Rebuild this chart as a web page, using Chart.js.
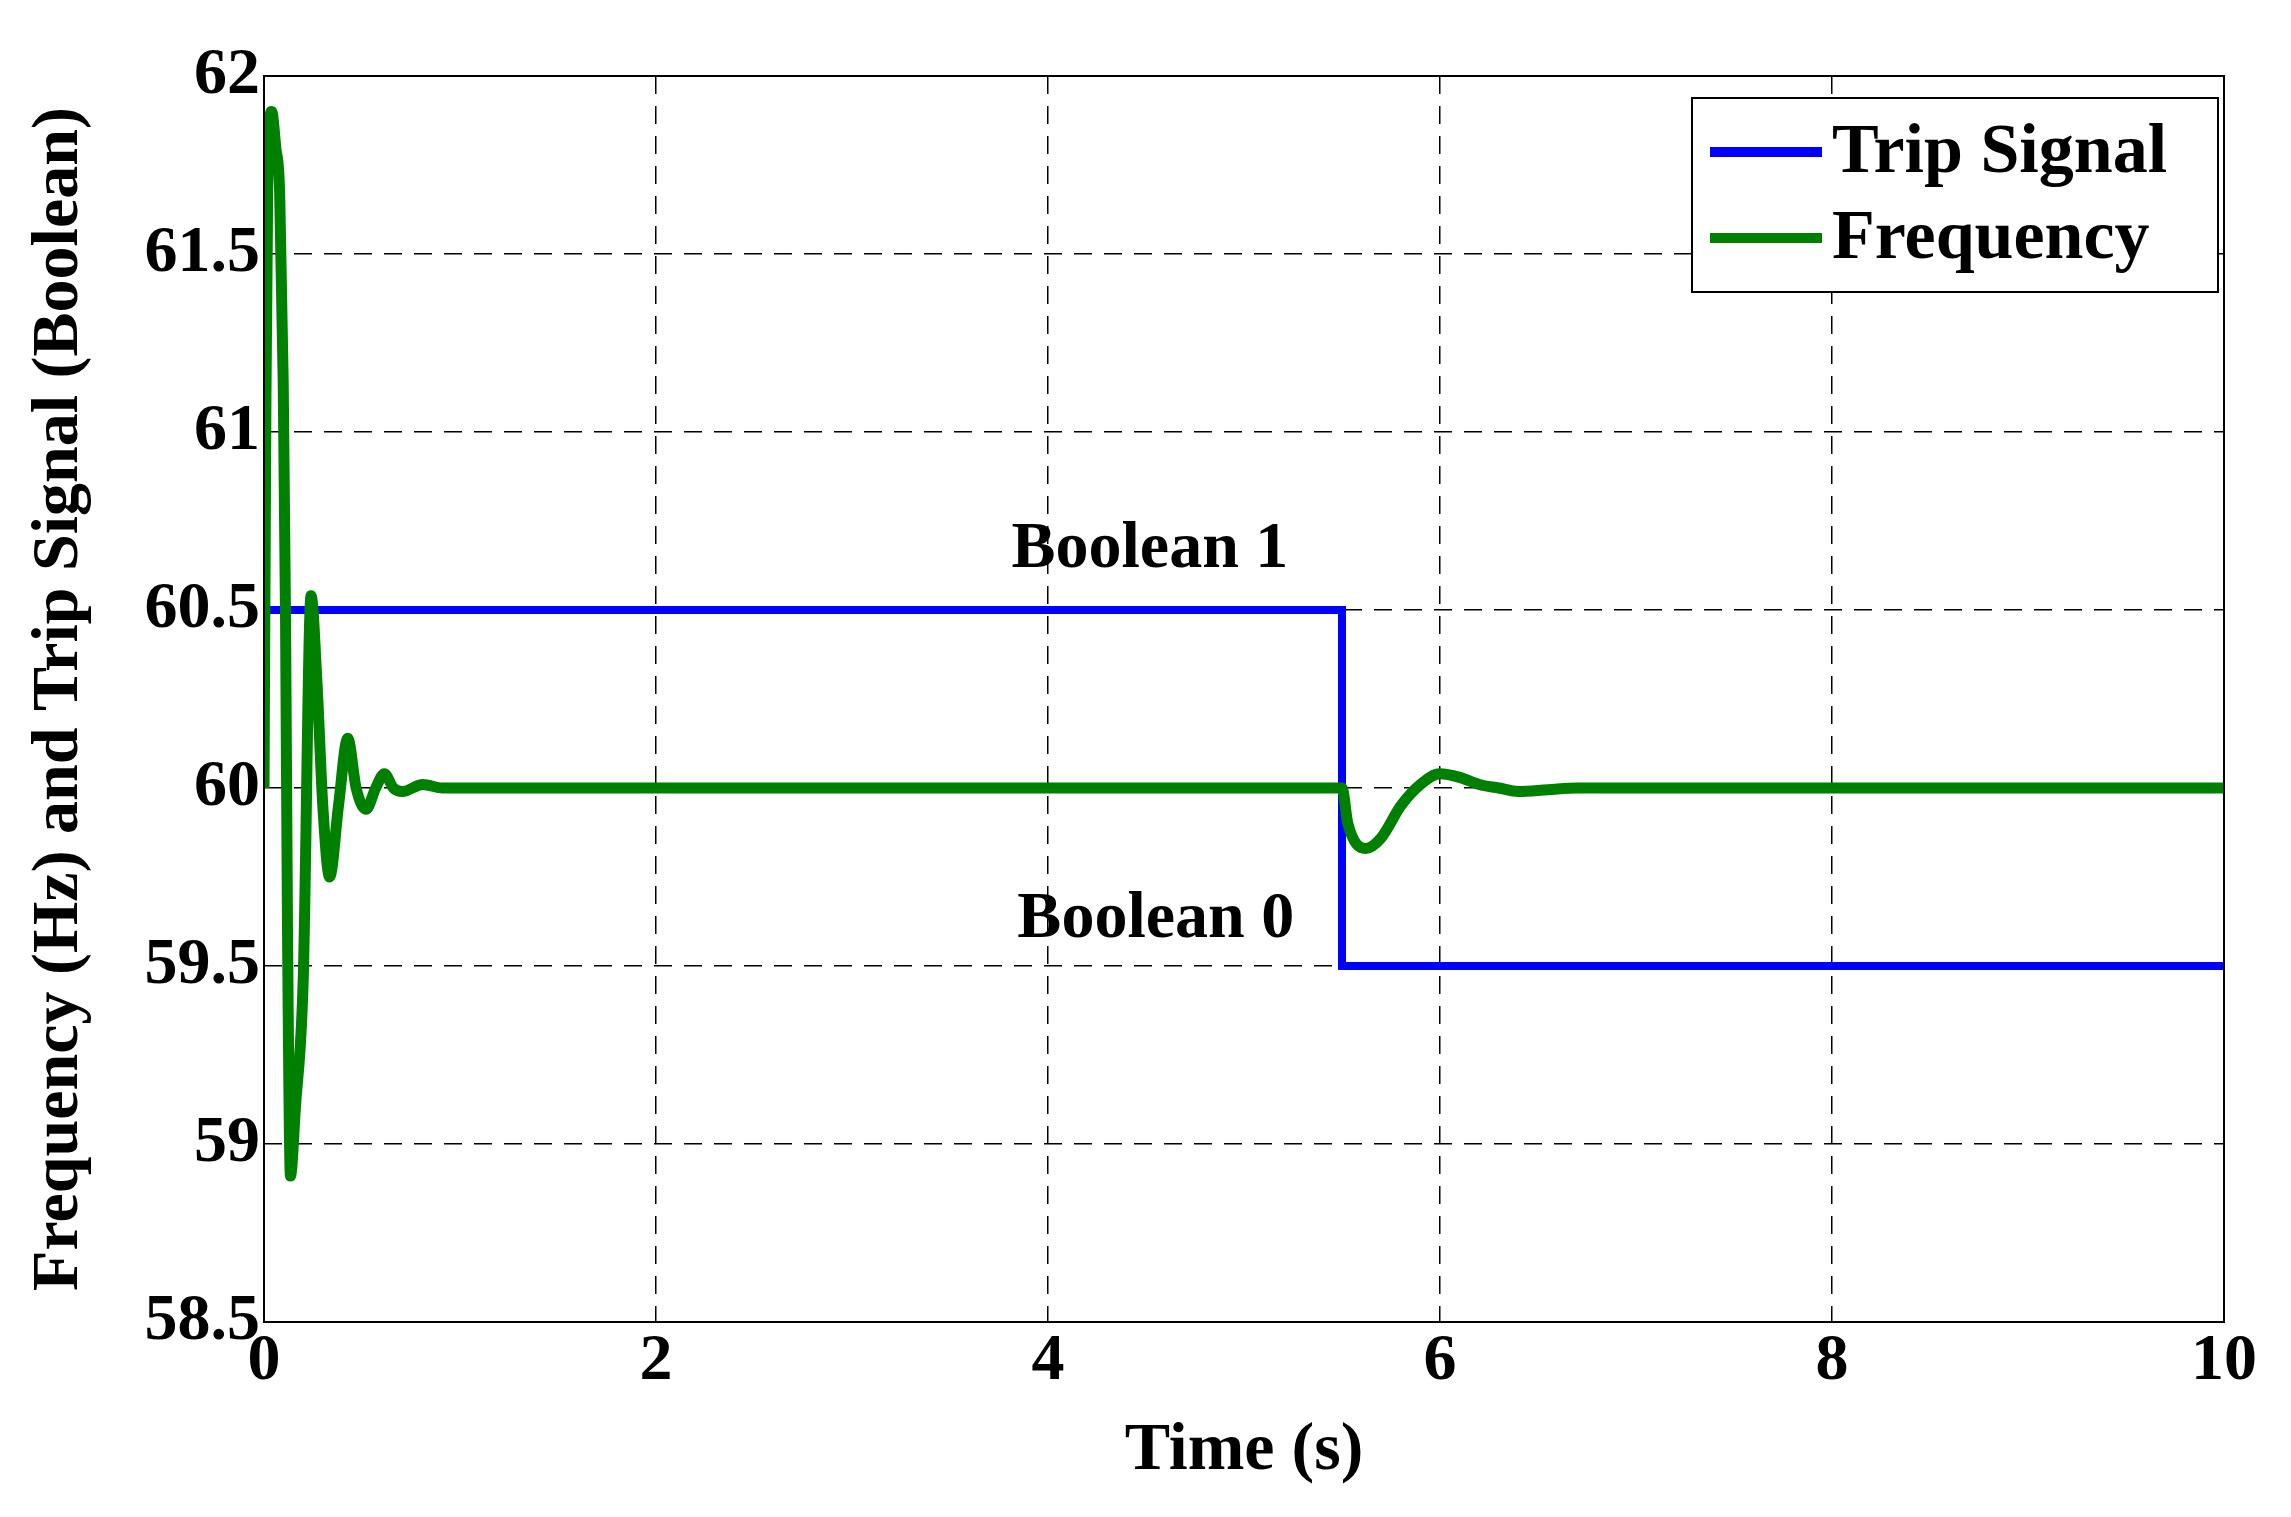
<!DOCTYPE html>
<html><head><meta charset="utf-8">
<script src="https://cdn.jsdelivr.net/npm/chart.js@4/dist/chart.umd.min.js"></script>
<style>html,body{margin:0;padding:0;background:#fff}#w{width:2291px;height:1517px}</style>
</head><body><div id="w"><canvas id="c"></canvas></div>
<script>
const freqTimes = [0,0.01,0.02,0.039,0.06,0.08,0.098,0.11,0.12,0.135,0.16,0.2,0.24,0.27,0.3,0.335,0.38,0.427,0.47,0.52,0.57,0.614,0.66,0.706,0.81,0.91,1.0,1.1,5.5,5.53,5.62,5.7,5.8,5.9,6.0,6.1,6.2,6.3,6.4,6.55,6.7,10];
const freqValues = [60.0,61.1,61.75,61.9,61.8,61.67,61.14,60.47,59.6,58.91,59.1,59.46,60.54,60.3,59.95,59.75,59.95,60.14,60.0,59.94,60.0,60.04,60.0,59.99,60.01,60.0,60.0,60.0,60.0,59.9,59.83,59.86,59.95,60.01,60.04,60.03,60.01,60.0,59.99,59.995,60.0,60.0];
const tripTimes = [0,5.5,5.5,10];
const tripValues = [60.5,60.5,59.5,59.5];
const xTicks = [0,2,4,6,8,10];
const yTicks = [58.5,59,59.5,60,60.5,61,61.5,62];
const seriesNames = ['Trip Signal','Frequency'];
const annotations = [{t:'Boolean 1',x:4.52,y:60.67},{t:'Boolean 0',x:4.55,y:59.63}];
const FONT = '"Liberation Serif","Times New Roman",serif';
const BLUE='#0000ff', GREEN='#008000';

const extras = {
  id:'extras',
  afterDraw(ch){
    const c=ch.ctx, a=ch.chartArea, xs=ch.scales.x, ys=ch.scales.y;
    c.save();
    c.strokeStyle='#000'; c.lineWidth=2; c.setLineDash([]);
    c.strokeRect(a.left,a.top,a.right-a.left,a.bottom-a.top);
    c.font='bold 66px '+FONT; c.fillStyle='#000'; c.textAlign='center'; c.textBaseline='middle';
    annotations.forEach(o=>c.fillText(o.t, xs.getPixelForValue(o.x), ys.getPixelForValue(o.y)));
    const lx=1692, ly=98, lw=526, lh=194;
    c.fillStyle='#fff'; c.fillRect(lx,ly,lw,lh);
    c.strokeStyle='#000'; c.lineWidth=2; c.strokeRect(lx,ly,lw,lh);
    c.textAlign='left'; c.font='bold 70px '+FONT;
    [[BLUE,152],[GREEN,238]].forEach((p,i)=>{
      c.strokeStyle=p[0]; c.lineWidth=10; c.beginPath(); c.moveTo(1710,p[1]); c.lineTo(1822,p[1]); c.stroke();
      c.fillStyle='#000'; c.fillText(seriesNames[i],1832,p[1]+2);
    });
    c.restore();
  }
};

new Chart(document.getElementById('c'),{
  type:'line',
  data:{datasets:[
    {label:seriesNames[1],data:freqTimes.map((t,i)=>({x:t,y:freqValues[i]})),borderColor:GREEN,borderWidth:11,pointRadius:0,tension:0.3,cubicInterpolationMode:'monotone'},
    {label:seriesNames[0],data:tripTimes.map((t,i)=>({x:t,y:tripValues[i]})),borderColor:BLUE,borderWidth:8,pointRadius:0,tension:0}
  ]},
  options:{
    responsive:true,maintainAspectRatio:false,animation:false,
    layout:{padding:{left:20,right:67,top:76,bottom:25}},
    plugins:{legend:{display:false},tooltip:{enabled:false}},
    scales:{
      x:{type:'linear',min:0,max:10,
        afterBuildTicks:s=>{s.ticks=xTicks.map(v=>({value:v}));},
        afterFit:s=>{s.height=1517-1322-25;},
        ticks:{font:{family:FONT,size:66,weight:'bold'},color:'#000',padding:0},
        grid:{color:'#000',lineWidth:1.5,drawTicks:false},
        border:{display:false,dash:[18,12]},
        title:{display:true,text:'Time (s)',font:{family:FONT,size:68,weight:'bold'},color:'#000',padding:{top:0,bottom:0}}
      },
      y:{min:58.5,max:62,
        afterBuildTicks:s=>{s.ticks=yTicks.map(v=>({value:v}));},
        afterFit:s=>{s.width=264-20;},
        ticks:{font:{family:FONT,size:66,weight:'bold'},color:'#000',padding:4,callback:v=>String(v)},
        grid:{color:'#000',lineWidth:1.5,drawTicks:false},
        border:{display:false,dash:[18,12]},
        title:{display:true,text:'Frequency (Hz) and Trip Signal (Boolean)',font:{family:FONT,size:66,weight:'bold'},color:'#000',padding:{top:0,bottom:0}}
      }
    }
  },
  plugins:[extras]
});
</script></body></html>
